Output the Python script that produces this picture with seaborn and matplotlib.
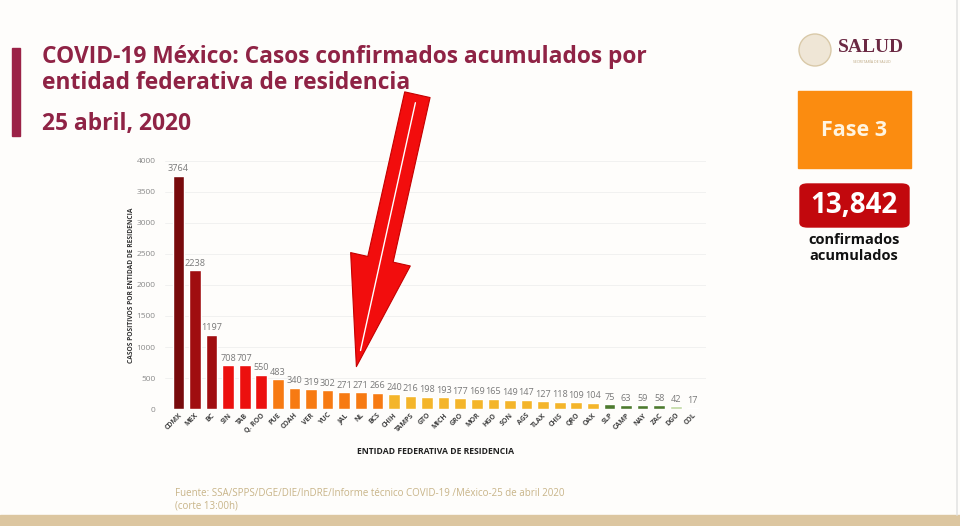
import matplotlib
matplotlib.use("Agg")
import matplotlib.pyplot as plt
import seaborn as sns
import pandas as pd
from matplotlib.patches import Rectangle, FancyBboxPatch, Ellipse

states = ["CDMX", "MEX", "BC", "SIN", "TAB", "Q. ROO", "PUE", "COAH", "VER", "YUC",
          "JAL", "NL", "BCS", "CHIH", "TAMPS", "GTO", "MICH", "GRO", "MOR", "HGO",
          "SON", "AGS", "TLAX", "CHIS", "QRO", "OAX", "SLP", "CAMP", "NAY", "ZAC",
          "DGO", "COL"]
cases = [3764, 2238, 1197, 708, 707, 550, 483, 340, 319, 302,
         271, 271, 266, 240, 216, 198, 193, 177, 169, 165,
         149, 147, 127, 118, 109, 104, 75, 63, 59, 58,
         42, 17]
groups = ["g0", "g1", "g1", "g2", "g2", "g2", "g3", "g3", "g3", "g3",
          "g3", "g3", "g3", "g4", "g4", "g4", "g4", "g4", "g4", "g4",
          "g4", "g4", "g4", "g4", "g4", "g4", "g5", "g5", "g5", "g5",
          "g6", "g6"]
group_colors = {"g0": "#780a0c", "g1": "#a00d10", "g2": "#ec100e", "g3": "#f77a12",
                "g4": "#f4b52a", "g5": "#4d7a2e", "g6": "#bfd8a0"}
total_text = "13,842"

df = pd.DataFrame({"estado": states, "casos": cases, "grupo": groups})

sns.set_theme(style="white")
plt.rcParams["font.family"] = ["Open Sans", "DejaVu Sans"]

fig = plt.figure(figsize=(9.6, 5.26), dpi=100)
fig.patch.set_facecolor("#fefdfb")

ax = fig.add_axes([0.172, 0.2224, 0.563, 0.4716])
ax.set_facecolor("none")
sns.barplot(data=df, x="estado", y="casos", hue="grupo", palette=group_colors,
            dodge=False, legend=False, width=0.7, saturation=1, ax=ax)
ax.set_ylim(0, 4000)
ax.set_xlim(-0.8, len(states) - 0.2)
ax.set_yticks(range(0, 4001, 500))
ax.yaxis.grid(True, color="#efefef", linewidth=0.6)
ax.set_axisbelow(True)
for s in ax.spines.values():
    s.set_visible(False)
ax.tick_params(axis="y", labelsize=6, colors="#8a8a8a", length=0, pad=7)
ax.tick_params(axis="x", labelsize=5, colors="#444444", length=0, pad=2)
for lab in ax.get_xticklabels():
    lab.set_rotation(45)
    lab.set_ha("right")
    lab.set_rotation_mode("anchor")
    lab.set_fontweight("bold")
ax.set_ylabel("CASOS POSITIVOS POR ENTIDAD DE RESIDENCIA", fontsize=4.8,
              fontweight="bold", color="#333333", labelpad=1)
ax.set_xlabel("ENTIDAD FEDERATIVA DE RESIDENCIA", fontsize=6.2,
              fontweight="bold", color="#222222", labelpad=9)
for i, v in enumerate(cases):
    ax.text(i, v + 40, str(v), ha="center", va="bottom", fontsize=6.6, color="#7a7a7a")

# red arrow annotation pointing to NL
ax.annotate("", xy=(10.7, 640), xycoords="data",
            xytext=(418 / 960, 1 - 92 / 526), textcoords="figure fraction",
            arrowprops=dict(arrowstyle="simple,head_length=3.6,head_width=2.0,tail_width=0.85",
                            fc="#f20d0d", ec="#c40000", lw=0.8, mutation_scale=22))
ax.annotate("", xy=(10.95, 900), xycoords="data",
            xytext=(416 / 960, 1 - 100 / 526), textcoords="figure fraction",
            arrowprops=dict(arrowstyle="-", color="white", lw=1.0))

# Title block
fig.patches.append(Rectangle((12 / 960, 1 - 136 / 526), 8 / 960, 88 / 526,
                             transform=fig.transFigure, color="#9b2247"))
fig.text(42 / 960, 1 - 57 / 526, "COVID-19 México: Casos confirmados acumulados por",
         fontsize=16.4, fontweight="bold", color="#8f2345", va="center")
fig.text(42 / 960, 1 - 83 / 526, "entidad federativa de residencia",
         fontsize=16.4, fontweight="bold", color="#8f2345", va="center")
fig.text(42 / 960, 1 - 124 / 526, "25 abril, 2020",
         fontsize=16.4, fontweight="bold", color="#8f2345", va="center")

# Right panel
fig.patches.append(Ellipse((815 / 960, 1 - 50 / 526), 32 / 960, 32 / 526,
                           transform=fig.transFigure,
                           facecolor="#efe6d6", edgecolor="#d9c9a8", lw=1.0))
fig.text(838 / 960, 1 - 47 / 526, "SALUD", family=["Liberation Serif", "DejaVu Serif"],
         fontsize=14, color="#6b2943", va="center", fontweight="bold")
fig.text(872 / 960, 1 - 62 / 526, "SECRETARÍA DE SALUD", fontsize=2.5,
         color="#b8a27a", va="center", ha="center")
fig.patches.append(Rectangle((798 / 960, 1 - 168 / 526), 113 / 960, 77 / 526,
                             transform=fig.transFigure, color="#fb8c10"))
fig.text(854 / 960, 1 - 130 / 526, "Fase 3", fontsize=15.5, fontweight="bold",
         color="#fff4e0", ha="center", va="center")
fig.patches.append(FancyBboxPatch((800 / 960, 1 - 227 / 526), 109 / 960, 43 / 526,
                                  boxstyle="round,pad=0,rounding_size=0.008",
                                  transform=fig.transFigure, color="#c2080d"))
fig.text(854 / 960, 1 - 205 / 526, total_text, fontsize=20, fontweight="bold",
         color="white", ha="center", va="center")
fig.text(854 / 960, 1 - 240 / 526, "confirmados", fontsize=10.5, fontweight="bold",
         color="#111111", ha="center", va="center")
fig.text(854 / 960, 1 - 256 / 526, "acumulados", fontsize=10.5, fontweight="bold",
         color="#111111", ha="center", va="center")
fig.lines.append(plt.Line2D([957 / 960, 957 / 960], [0.02, 1], transform=fig.transFigure,
                            color="#e4e4e4", lw=1.2))

# Source and bottom band
fig.text(175 / 960, 1 - 500 / 526,
         "Fuente: SSA/SPPS/DGE/DIE/InDRE/Informe técnico COVID-19 /México-25 de abril 2020\n(corte 13:00h)",
         fontsize=7, color="#c8b488", va="center", linespacing=1.2)
fig.patches.append(Rectangle((0, 0), 1, 11 / 526, transform=fig.transFigure, color="#dcc6a0"))

fig.savefig("out.png", dpi=100, facecolor=fig.get_facecolor())
